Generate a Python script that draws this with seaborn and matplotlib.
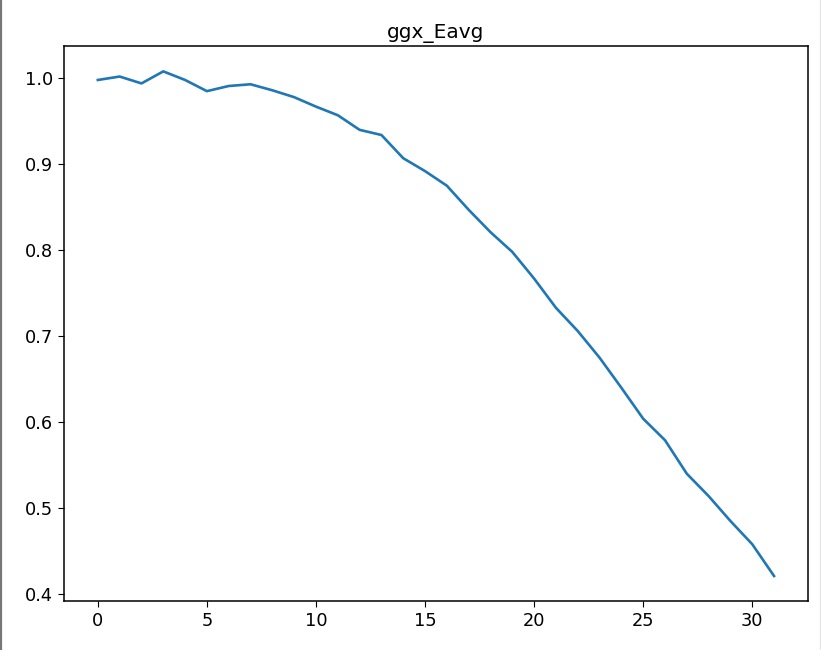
import numpy as np
import pandas as pd
import matplotlib
matplotlib.use("Agg")
import matplotlib.pyplot as plt
import seaborn as sns

# values
steps = list(range(32))
eavg = [0.998, 1.002, 0.994, 1.008, 0.998, 0.985, 0.991, 0.993,
        0.986, 0.978, 0.967, 0.957, 0.940, 0.934, 0.907, 0.892,
        0.875, 0.847, 0.821, 0.798, 0.767, 0.733, 0.706, 0.675,
        0.640, 0.604, 0.579, 0.540, 0.514, 0.485, 0.458, 0.421]

df = pd.DataFrame({"step": steps, "Eavg": eavg})

plt.rcParams["font.size"] = 12.8
plt.rcParams["font.family"] = ["DejaVu Sans"]
plt.rcParams["xtick.major.size"] = 4.5
plt.rcParams["ytick.major.size"] = 4.5
plt.rcParams["axes.linewidth"] = 1.1

fig = plt.figure(figsize=(8.21, 6.5), dpi=100)
ax = fig.add_axes([0.078, 0.075, 0.906, 0.854])

sns.lineplot(data=df, x="step", y="Eavg", ax=ax, color="#1f77b4", linewidth=1.9)
ax.set_title("ggx_Eavg", fontsize=14.5)
ax.set_xlabel("")
ax.set_ylabel("")
ax.set_xticks([0, 5, 10, 15, 20, 25, 30])
ax.set_yticks([0.4, 0.5, 0.6, 0.7, 0.8, 0.9, 1.0])

# screenshot frame: dark line on the left, faint one on the right
fig.add_artist(plt.Line2D([0.0015, 0.0015], [0, 1], transform=fig.transFigure,
                          color="#777777", linewidth=1.6))
fig.add_artist(plt.Line2D([0.9985, 0.9985], [0, 1], transform=fig.transFigure,
                          color="#e6e6e6", linewidth=1.0))

fig.savefig("out.png", dpi=100)
